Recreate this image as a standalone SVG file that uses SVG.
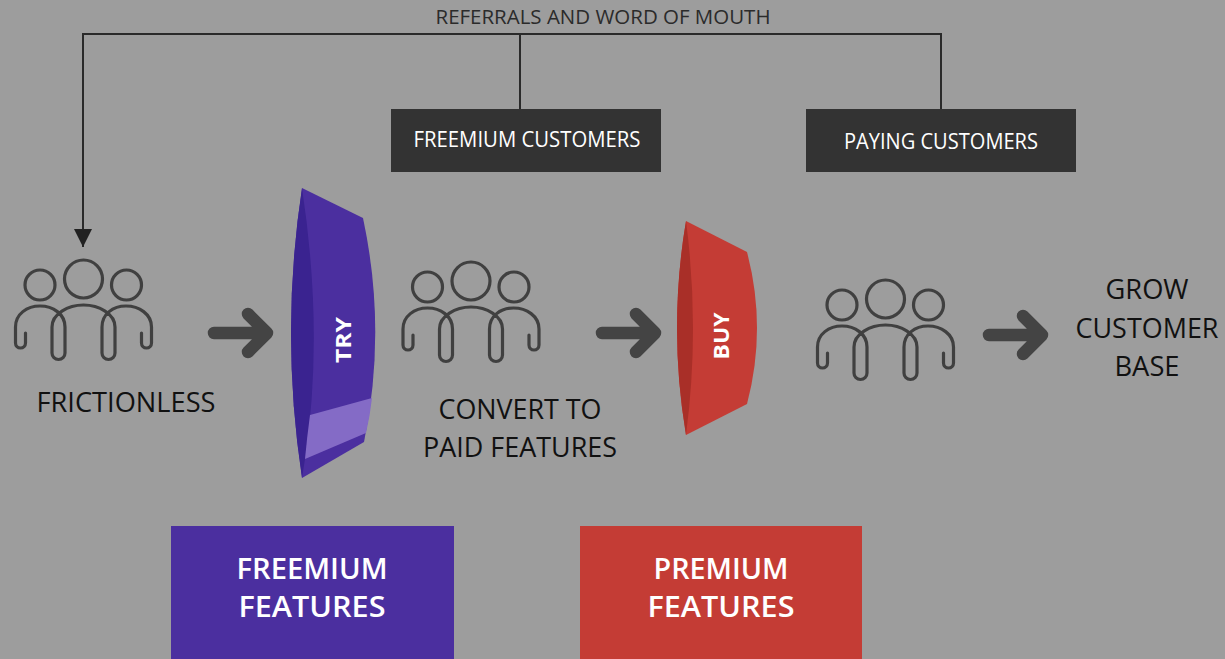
<svg xmlns="http://www.w3.org/2000/svg" width="1225" height="659" viewBox="0 0 1225 659">
<style>
text{font-family:"Open Sans","Liberation Sans",sans-serif;text-anchor:middle}
.lab{font-size:27px;fill:#111}
.wh{fill:#fff;font-size:21px}
.big{fill:#fff;font-size:29px;font-weight:600}
.side{fill:#fff;font-size:22px;font-weight:700}
.conn{fill:none;stroke:#2a2a2a;stroke-width:2}
.ic{fill:none;stroke:#404040;stroke-width:3.2;stroke-linecap:round;stroke-linejoin:round}
.arr{fill:none;stroke:#444;stroke-width:12.500;stroke-linecap:round;stroke-linejoin:round}
</style>
<defs>
<marker id="tip" markerUnits="userSpaceOnUse" markerWidth="20" markerHeight="18" refX="18" refY="9" orient="auto"><path d="M0,0L18,9L0,18Z" fill="#222"/></marker>
<g id="people" class="ic">
<circle cx="83.500" cy="279" r="19"/><circle cx="40" cy="285" r="15"/><circle cx="126.500" cy="285" r="15"/>
<path d="M25.500,333V343a5,5 0 0 1-10,0V327C15.500,314 27,306 40,306C53,306 65,314 65,327V353a6.500,6.500 0 0 1-13,0V327C52,314 68,305 83.500,305C99,305 115,314 115,327V353a6.500,6.500 0 0 1-13,0V327C102,314 113,306 126,306C139,306 151.500,314 151.500,327V343a5,5 0 0 1-10,0V333"/>
</g>
<path id="go" class="arr" d="M214,333H266M248,314L267,333L248,352"/>
</defs>
<rect width="1225" height="659" fill="#9d9d9d"/>
<g id="connectors">
<path class="conn" d="M941,109V34H83V247" marker-end="url(#tip)"/>
<path class="conn" d="M520,109V34"/>
<use href="#go"/>
<use href="#go" x="388"/>
<use href="#go" x="775" y="2"/>
</g>
<g id="referrals"><text x="603" y="24" font-size="20" fill="#2b2b2b" textLength="335" lengthAdjust="spacingAndGlyphs">REFERRALS AND WORD OF MOUTH</text></g>
<g id="freemium-customers"><rect x="391" y="109" width="270" height="63" fill="#333"/><text class="wh" x="527" y="147" textLength="227" lengthAdjust="spacingAndGlyphs">FREEMIUM CUSTOMERS</text></g>
<g id="paying-customers"><rect x="806" y="109" width="270" height="63" fill="#333"/><text class="wh" x="941" y="149" textLength="194" lengthAdjust="spacingAndGlyphs">PAYING CUSTOMERS</text></g>
<g id="frictionless"><use href="#people"/><text class="lab" x="126" y="412" textLength="179" lengthAdjust="spacingAndGlyphs">FRICTIONLESS</text></g>
<g id="try">
<path d="M302,188L363,218Q387,330 364,442L302,478Q280,333 302,188Z" fill="#4b2f9f"/>
<path d="M302,188Q280,333 302,478L305,459Q324,333 302,188Z" fill="#3a2390"/>
<path d="M310,415L372,398Q370,416 366,433L305,459Q307,437 310,415Z" fill="#846bc6"/>
<text class="side" transform="translate(351,340) rotate(-90)" textLength="46" lengthAdjust="spacingAndGlyphs">TRY</text>
</g>
<g id="convert"><use href="#people" x="387.500" y="2"/><text class="lab" x="520" y="419" textLength="163" lengthAdjust="spacingAndGlyphs">CONVERT TO</text><text class="lab" x="520" y="457" textLength="194" lengthAdjust="spacingAndGlyphs">PAID FEATURES</text></g>
<g id="buy">
<path d="M686,221L747,252Q767,328 747,404L686,435Q668,328 686,221Z" fill="#c43c35"/>
<path d="M686,221Q668,328 686,435Q700,328 686,221Z" fill="#a92f28"/>
<text class="side" transform="translate(729,336) rotate(-90)" textLength="47" lengthAdjust="spacingAndGlyphs">BUY</text>
</g>
<g id="grown"><use href="#people" x="802" y="20"/></g>
<g id="grow"><text class="lab" x="1147" y="299" textLength="83" lengthAdjust="spacingAndGlyphs">GROW</text><text class="lab" x="1147" y="338" textLength="143" lengthAdjust="spacingAndGlyphs">CUSTOMER</text><text class="lab" x="1147" y="376" textLength="65" lengthAdjust="spacingAndGlyphs">BASE</text></g>
<g id="freemium-features"><rect x="171" y="526" width="283" height="133" fill="#4b2f9f"/><text class="big" x="312" y="579" textLength="151" lengthAdjust="spacingAndGlyphs">FREEMIUM</text><text class="big" x="312" y="617" textLength="147" lengthAdjust="spacingAndGlyphs">FEATURES</text></g>
<g id="premium-features"><rect x="580" y="526" width="282" height="133" fill="#c43c35"/><text class="big" x="721" y="579" textLength="135" lengthAdjust="spacingAndGlyphs">PREMIUM</text><text class="big" x="721" y="617" textLength="147" lengthAdjust="spacingAndGlyphs">FEATURES</text></g>
</svg>
